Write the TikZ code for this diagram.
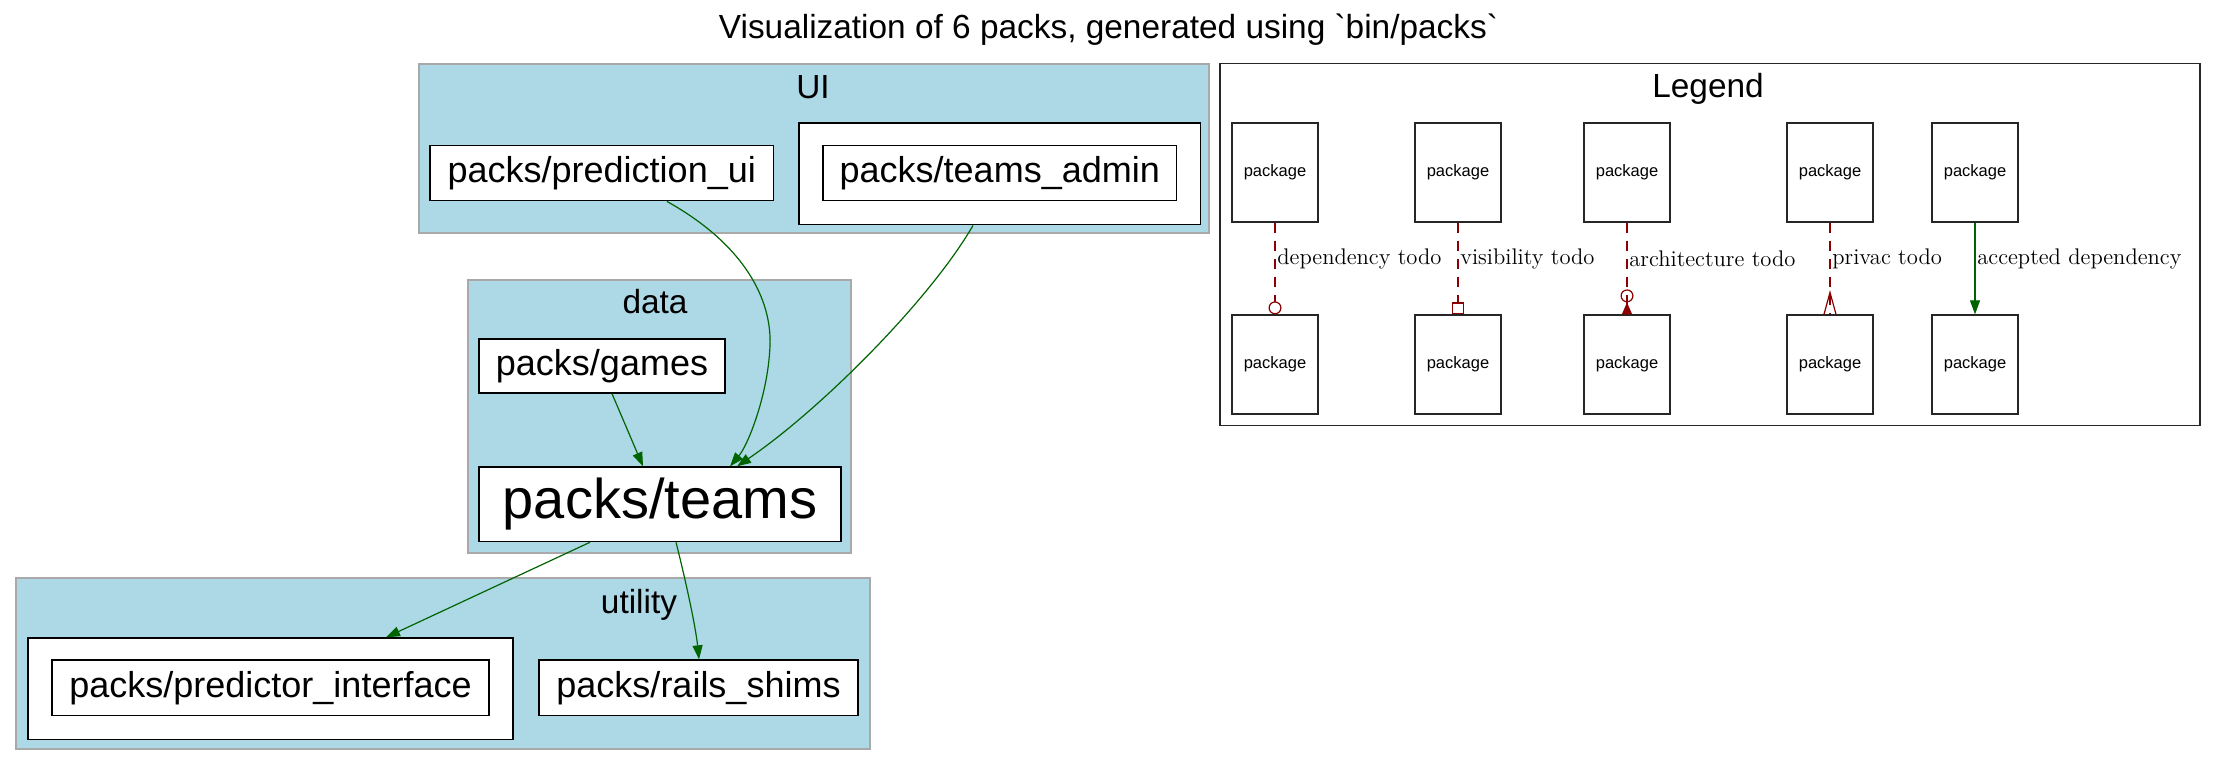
\documentclass[tikz,border=0pt]{standalone}
\usepackage{fontspec}
\setsansfont{Liberation Sans}
\newfontfamily\titlesans{Liberation Sans}[Ligatures=TeXOff]
\usetikzlibrary{arrows.meta,calc}
\definecolor{clfill}{HTML}{ADD8E6}
\definecolor{clline}{HTML}{A9A9A9}
\definecolor{edgegreen}{HTML}{006400}
\definecolor{todored}{HTML}{8B0000}
\tikzset{
  pk/.style={draw=black, fill=white, line width=0.65pt, inner sep=0pt,
    font=\sffamily\fontsize{18}{18}\selectfont},
  outerbox/.style={draw=black, fill=white, line width=0.65pt, inner sep=0pt},
  cluster/.style={draw=clline, fill=clfill, line width=1pt, inner sep=0pt},
  cltitle/.style={font=\sffamily\fontsize{16.7}{17}\selectfont, inner sep=0pt},
  legbox/.style={draw=black!85, fill=white, line width=0.65pt, inner sep=0pt,
    minimum width=43pt, minimum height=49.5pt, font=\sffamily\fontsize{8.25}{9}\selectfont},
  deparrow/.style={draw=edgegreen, line width=0.6pt, -{Triangle[length=7pt,width=5pt]}},
  todoline/.style={draw=todored, line width=0.6pt, dash pattern=on 5pt off 4pt},
  elabel/.style={font=\fontsize{11.3}{12}\selectfont, inner sep=0pt, anchor=west}
}
\begin{document}
\begin{tikzpicture}[x=0.5pt,y=-0.5pt]
\useasboundingbox (0,0) rectangle (2217,767);
% title
\node[inner sep=0pt, font=\titlesans\fontsize{16.7}{17}\selectfont] (title) at (1108.5,30) {Visualization of 6 packs, generated using `bin/packs`};
% clusters
\node[cluster, minimum width=395.2pt, minimum height=84.85pt] (ui) at (813.8,148.5) {};
\node[cltitle] (uit) at (813,87) {UI};
\node[cluster, minimum width=191.5pt, minimum height=136.5pt] (data) at (659.5,416.5) {};
\node[cltitle] (datat) at (655,302) {data};
\node[cluster, minimum width=427pt, minimum height=85.5pt] (util) at (442.5,663.5) {};
\node[cltitle] (utilt) at (639,605) {utility};
% UI nodes
\node[pk, minimum width=171.75pt, minimum height=27.6pt] (pui) at (601.75,173.2) {packs/prediction\_ui};
\node[outerbox, minimum width=200.75pt, minimum height=50.9pt] (tao) at (999.75,173.9) {};
\node[pk, minimum width=176.75pt, minimum height=27.6pt] (ta) at (999.75,173.2) {packs/teams\_admin};
% data nodes
\node[pk, minimum width=123pt, minimum height=27pt] (games) at (602,366) {packs/games};
\node[pk, minimum width=181pt, minimum height=37.3pt, font=\sffamily\fontsize{28}{28}\selectfont] (teams) at (660,504.3) {packs/teams};
% utility nodes
\node[outerbox, minimum width=242.5pt, minimum height=50.75pt] (pio) at (270.5,688.75) {};
\node[pk, minimum width=218.5pt, minimum height=27.75pt] (pi) at (270.5,687.75) {packs/predictor\_interface};
\node[pk, minimum width=159.5pt, minimum height=27.75pt] (rails) at (698.5,687.75) {packs/rails\_shims};
% edges
\draw[deparrow] ($(pui.south)+(65.25,0)$) .. controls (745,245) and (772,300) .. (770,346)
   .. controls (768,395) and (748,445) .. ($(teams.north)+(70,0)$);
\draw[deparrow] ($(tao.south)+(-26.75,0)$) .. controls (930,300) and (820,410) .. ($(teams.north)+(77,0)$);
\draw[deparrow] ($(games.south)+(10,0)$) -- ($(teams.north)+(-17,0)$);
\draw[deparrow] ($(teams.south)+(-70,0)$) -- ($(pio.north)+(115.5,0)$);
\draw[deparrow] ($(teams.south)+(16,0)$) .. controls (688,590) and (696,630) .. ($(rails.north)+(0.5,0)$);
% legend
\node[draw=black!85, line width=0.65pt, minimum width=490pt, minimum height=181pt, inner sep=0pt] (legend) at (1710,244.6) {};
\node[cltitle] (legt) at (1708,89) {Legend};
\foreach \i/\x in {1/1275,2/1458,3/1627,4/1830,5/1975} {
  \node[legbox] (a\i) at (\x,172.5) {package};
  \node[legbox] (b\i) at (\x,364.5) {package};
}
\draw[todoline, -{Circle[open,length=6.5pt]}] (a1) -- (b1);
\draw[todoline, -{Square[open,length=6pt,width=6pt]}] (a2) -- (b2);
\draw[todoline, -{Circle[open,length=6.5pt] Triangle[reversed,length=6pt,width=5pt]}] (a3) -- (b3);
\draw[todoline] (a4) -- (b4);
\coordinate (crowtip) at ($(b4.north)+(0,-22)$);
\draw[draw=todored, line width=0.6pt] ($(b4.north)+(-6,0)$) -- (crowtip) -- ($(b4.north)+(6,0)$);
\draw[deparrow] (a5) -- (b5);
\node[elabel] (l1) at (1277,259) {dependency todo};
\node[elabel] (l2) at (1460,259) {visibility todo};
\node[elabel] (l3) at (1629,259) {architecture todo};
\node[elabel] (l4) at (1832,259) {privac todo};
\node[elabel] (l5) at (1977,259) {accepted dependency};
\end{tikzpicture}
\end{document}
